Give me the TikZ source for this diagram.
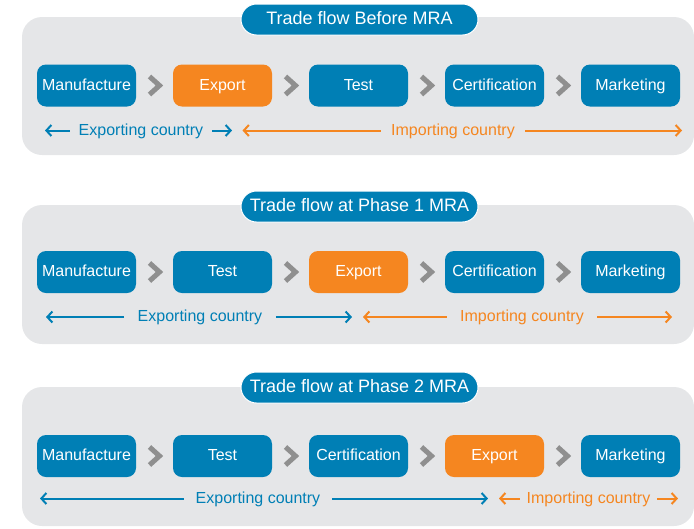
\documentclass[tikz,border=0pt]{standalone}
\usepackage{fontspec}
\setmainfont{Liberation Sans}
\usetikzlibrary{calc,arrows.meta}
\definecolor{mrablue}{RGB}{0,127,181}
\definecolor{mraorange}{RGB}{245,134,32}
\definecolor{mragray}{RGB}{229,230,232}
\definecolor{chevgray}{RGB}{143,143,143}
\def\chev(#1)(#2){\draw[line width=5pt, color=chevgray, line join=miter] ($(#1.east)!0.5!(#2.west)+(-5,-9)$) -- ++(10,9) -- ++(-10,9);}
\tikzset{
	stage/.style={rectangle, rounded corners=9pt, minimum width=99pt, minimum height=42pt, inner sep=0pt, text height=11.5pt, text depth=2pt, text=white, font=\fontsize{16}{19}\selectfont},
	home/.style={stage, fill=mrablue},
	ship/.style={stage, fill=mraorange},
	title/.style={rectangle, rounded corners=15.5pt, fill=mrablue, draw=white, line width=1pt, minimum width=237pt, minimum height=31pt, inner sep=0pt, text height=13pt, text depth=2.5pt, text=white, font=\fontsize{18}{21}\selectfont},
	panel/.style={fill=mragray, rounded corners=20pt},
	side/.style={inner ysep=0pt, inner xsep=#1, text height=11.5pt, text depth=2pt, font=\fontsize{16}{19}\selectfont},
	expside/.style={side=#1, text=mrablue},
	impside/.style={side=#1, text=mraorange},
	exparr/.style={draw=mrablue, line width=2pt, -{Straight Barb[length=5pt,width=11pt]}},
	imparr/.style={draw=mraorange, line width=2pt, -{Straight Barb[length=5pt,width=11pt]}},
}
\begin{document}
\begin{tikzpicture}[x=1pt, y=-1pt]
			%%%%% START %%%%%
			\useasboundingbox (0,0) rectangle (694,528);
			
			%%%%% before MRA
			\fill[panel] (22,17) rectangle (694,155);
			\node[title] (h1) at (359.5,19.5) {Trade flow Before MRA};
			
			\node[home] (m1) at (86.5,85.5) {Manufacture};
			\node[ship] (x1) at (222.5,85.5) {Export};
			\node[home] (t1) at (358.5,85.5) {Test};
			\node[home] (c1) at (494.5,85.5) {Certification};
			\node[home] (k1) at (630.5,85.5) {Marketing};
			\chev(m1)(x1) \chev(x1)(t1) \chev(t1)(c1) \chev(c1)(k1)
			
			\node[expside=9pt] (e1) at (141,130.5) {Exporting country};
			\coordinate (e1l) at (45,130.5);
			\coordinate (e1r) at (232,130.5);
			\draw[exparr] (e1) -- (e1l);
			\draw[exparr] (e1) -- (e1r);
			\node[impside=10pt] (i1) at (453,130.5) {Importing country};
			\coordinate (i1l) at (242.5,130.5);
			\coordinate (i1r) at (682,130.5);
			\draw[imparr] (i1) -- (i1l);
			\draw[imparr] (i1) -- (i1r);
			
			%%%%% phase 1
			\fill[panel] (22,205) rectangle (694,344);
			\node[title] (h2) at (359.5,206.5) {Trade flow at Phase 1 MRA};
			
			\node[home] (m2) at (86.5,272) {Manufacture};
			\node[home] (t2) at (222.5,272) {Test};
			\node[ship] (x2) at (358.5,272) {Export};
			\node[home] (c2) at (494.5,272) {Certification};
			\node[home] (k2) at (630.5,272) {Marketing};
			\chev(m2)(t2) \chev(t2)(x2) \chev(x2)(c2) \chev(c2)(k2)
			
			\node[expside=13.5pt] (e2) at (200,317) {Exporting country};
			\coordinate (e2l) at (46,317);
			\coordinate (e2r) at (352,317);
			\draw[exparr] (e2) -- (e2l);
			\draw[exparr] (e2) -- (e2r);
			\node[impside=13pt] (i2) at (522,317) {Importing country};
			\coordinate (i2l) at (363,317);
			\coordinate (i2r) at (672,317);
			\draw[imparr] (i2) -- (i2l);
			\draw[imparr] (i2) -- (i2r);
			
			%%%%% phase 2
			\fill[panel] (22,387) rectangle (694,526);
			\node[title] (h3) at (359.5,387.5) {Trade flow at Phase 2 MRA};
			
			\node[home] (m3) at (86.5,456) {Manufacture};
			\node[home] (t3) at (222.5,456) {Test};
			\node[home] (c3) at (358.5,456) {Certification};
			\node[ship] (x3) at (494.5,456) {Export};
			\node[home] (k3) at (630.5,456) {Marketing};
			\chev(m3)(t3) \chev(t3)(c3) \chev(c3)(x3) \chev(x3)(k3)
			
			\node[expside=12pt] (e3) at (258,498.5) {Exporting country};
			\coordinate (e3l) at (40,498.5);
			\coordinate (e3r) at (488,498.5);
			\draw[exparr] (e3) -- (e3l);
			\draw[exparr] (e3) -- (e3r);
			\node[impside=6.5pt] (i3) at (588.5,498.5) {Importing country};
			\coordinate (i3l) at (499,498.5);
			\coordinate (i3r) at (678,498.5);
			\draw[imparr] (i3) -- (i3l);
			\draw[imparr] (i3) -- (i3r);
			
			%%%%% END %%%%%
\end{tikzpicture}
\end{document}
